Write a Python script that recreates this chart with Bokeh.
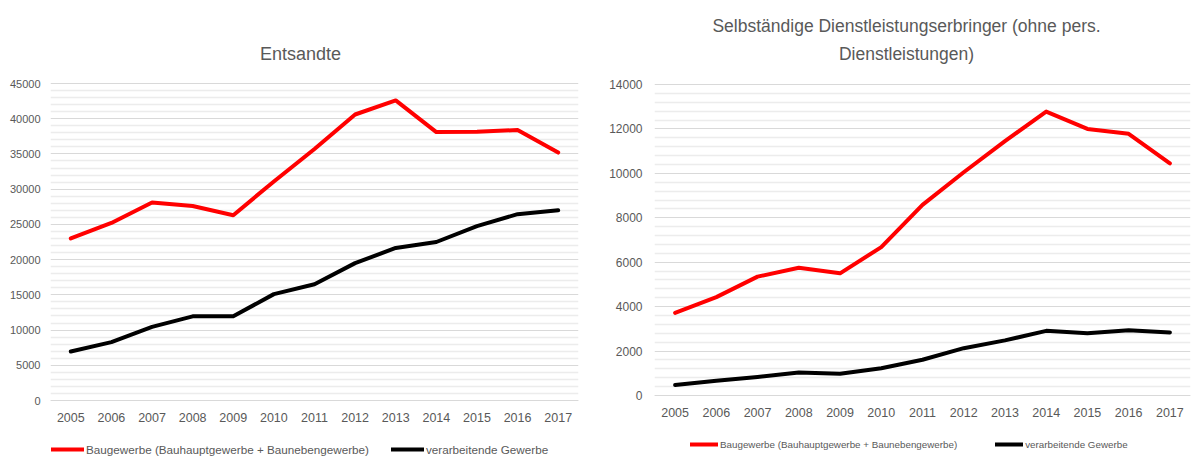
from bokeh.plotting import figure
from bokeh.models import Range1d, FixedTicker, Legend, LegendItem, Label
from bokeh.layouts import row
from bokeh.core.properties import value
from bokeh.embed import file_html
from bokeh.resources import INLINE

years = [2005, 2006, 2007, 2008, 2009, 2010, 2011, 2012, 2013, 2014, 2015, 2016, 2017]

title_left = "Entsandte"
title_right_1 = "Selbständige Dienstleistungserbringer (ohne pers."
title_right_2 = "Dienstleistungen)"
series_names = ["Baugewerbe (Bauhauptgewerbe + Baunebengewerbe)", "verarbeitende Gewerbe"]

ent_bau = [23000, 25200, 28100, 27600, 26300, 31100, 35700, 40600, 42600, 38100, 38150, 38400, 35200]
ent_verarb = [6950, 8280, 10450, 11950, 11950, 15100, 16500, 19500, 21650, 22500, 24750, 26450, 27000]
ent_yticks = [0, 5000, 10000, 15000, 20000, 25000, 30000, 35000, 40000, 45000]

selb_bau = [3720, 4430, 5350, 5750, 5500, 6680, 8580, 10050, 11450, 12780, 12000, 11780, 10450]
selb_verarb = [470, 660, 830, 1040, 980, 1230, 1610, 2130, 2480, 2910, 2800, 2940, 2840]
selb_yticks = [0, 2000, 4000, 6000, 8000, 10000, 12000, 14000]

GRAY_TXT = "#595959"
SANS = "Liberation Sans"
H = 456


def make_fig(w, bl, br, yticks, n_minor, zero_px, top_px, ytick_size, y_standoff):
    ymax = yticks[-1]
    upp = ymax / (zero_px - top_px)          # data units per pixel
    y0 = -(H - zero_px) * upp
    y1 = ymax + top_px * upp
    step = yticks[1] - yticks[0]
    minor = [t + k * step / n_minor for t in yticks[:-1] for k in range(1, n_minor)]
    p = figure(width=w, height=H, output_backend="svg", toolbar_location=None,
               x_range=Range1d(2004.5, 2017.5), y_range=Range1d(y0, y1),
               min_border_left=bl, min_border_right=br, min_border_top=0, min_border_bottom=0)
    p.title.visible = False
    p.outline_line_color = None
    p.background_fill_color = "white"
    p.border_fill_color = "white"
    yt = FixedTicker(ticks=yticks, minor_ticks=minor)
    p.yaxis.ticker = yt
    p.ygrid.ticker = yt
    p.ygrid.grid_line_color = "#d9d9d9"
    p.ygrid.grid_line_width = 1
    p.ygrid.minor_grid_line_color = "#ececec"
    p.ygrid.minor_grid_line_width = 1.5
    p.xgrid.grid_line_color = None
    p.yaxis.axis_line_color = None
    p.yaxis.major_tick_line_color = None
    p.yaxis.minor_tick_line_color = None
    p.yaxis.major_tick_out = 0
    p.yaxis.minor_tick_out = 0
    p.yaxis.major_label_text_color = GRAY_TXT
    p.yaxis.major_label_text_font = SANS
    p.yaxis.major_label_text_font_size = ytick_size
    p.yaxis.major_label_standoff = y_standoff
    p.xaxis.fixed_location = 0
    p.xaxis.ticker = FixedTicker(ticks=years)
    p.xaxis.axis_line_color = "#d9d9d9"
    p.xaxis.major_tick_line_color = None
    p.xaxis.minor_tick_line_color = None
    p.xaxis.major_tick_out = 0
    p.xaxis.minor_tick_out = 0
    p.xaxis.major_label_text_color = GRAY_TXT
    p.xaxis.major_label_text_font = SANS
    p.xaxis.major_label_text_font_size = "12.5px"
    p.xaxis.major_label_standoff = 12
    return p


def add_lines(p, a, b, loc, spacing, font_size, glyph_w):
    r1 = p.line(years, a, line_color="#ff0000", line_width=4, line_join="round", line_cap="round")
    r2 = p.line(years, b, line_color="#000000", line_width=4, line_join="round", line_cap="round")
    leg = Legend(items=[LegendItem(label=value(series_names[0]), renderers=[r1]),
                        LegendItem(label=value(series_names[1]), renderers=[r2])],
                 orientation="horizontal", location=loc,
                 label_text_font=SANS, label_text_font_size=font_size,
                 label_text_color=GRAY_TXT, glyph_width=glyph_w, glyph_height=14,
                 label_height=14, label_standoff=2, spacing=spacing, padding=0, margin=0,
                 border_line_color=None, background_fill_alpha=0)
    p.add_layout(leg)


def title_label(text, x, y, size):
    return Label(x=x, y=y, x_units="screen", y_units="screen", text=text,
                 text_align="center", text_baseline="middle", text_font=SANS,
                 text_font_size=size, text_color=GRAY_TXT)


# Left chart: frame x 50..578, zero line at y=400, top gridline at y=83
p1 = make_fig(600, 50, 22, ent_yticks, 5, 400, 83, "11px", 10)
add_lines(p1, ent_bau, ent_verarb, (1, 0), 22, "11.7px", 33)
p1.add_layout(title_label(title_left, 250, H - 53, "18px"))

# Right chart: frame x 654..1190, zero line at y=395, top gridline at y=84
p2 = make_fig(592, 54, 2, selb_yticks, 5, 395, 84, "12px", 12)
add_lines(p2, selb_bau, selb_verarb, (36, 5), 38, "9.8px", 28)
p2.add_layout(title_label(title_right_1, 252, H - 25, "17.5px"))
p2.add_layout(title_label(title_right_2, 252, H - 53, "17.5px"))

layout = row(p1, p2)
open("out.html", "w").write(file_html(layout, INLINE))
